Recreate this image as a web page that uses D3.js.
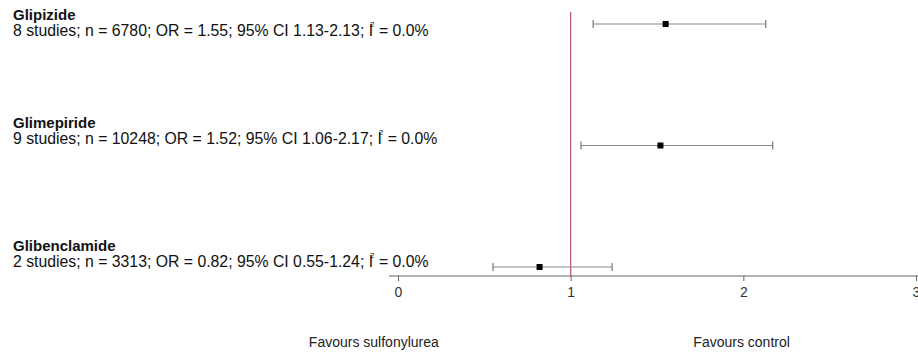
<!DOCTYPE html>
<html>
<head>
<meta charset="utf-8">
<script src="https://cdn.jsdelivr.net/npm/d3@7"></script>
<style>
  body { margin: 0; background: #fff; }
  text { font-family: Arial, "Liberation Sans", sans-serif; }
</style>
</head>
<body>
<div id="chart"></div>
<script>
// data
var drugs = ["Glipizide", "Glimepiride", "Glibenclamide"];
var studies = [8, 9, 2];
var nPatients = [6780, 10248, 3313];
var oddsRatio = [1.55, 1.52, 0.82];
var ciLow = [1.13, 1.06, 0.55];
var ciHigh = [2.13, 2.17, 1.24];
var iSquared = ["0.0%", "0.0%", "0.0%"];
var xTicks = [0, 1, 2, 3];
var sideLabels = ["Favours sulfonylurea", "Favours control"];

var width = 918;
var height = 353;
var svg = d3.select("#chart")
    .append("svg")
    .attr("width", width)
    .attr("height", height);

var x = d3.scaleLinear()
    .domain([0, 3])
    .range([398, 916]);

// rows of the forest plot
var y = d3.scalePoint()
    .domain(drugs)
    .range([24, 267]);

// text baselines of the row labels (not evenly spaced in the original)
var yText = d3.scaleOrdinal()
    .domain(drugs)
    .range([36, 144, 267]);

var axisY = 276;

// axis
svg.append("line")
    .attr("x1", 389).attr("x2", width)
    .attr("y1", axisY).attr("y2", axisY)
    .attr("stroke", "#666")
    .attr("stroke-width", 1.2);

var axis = d3.axisBottom(x)
    .tickValues(xTicks)
    .tickSize(5)
    .tickPadding(6)
    .tickFormat(d3.format("d"));

var gAxis = svg.append("g")
    .attr("transform", "translate(0," + axisY + ")")
    .call(axis);
gAxis.select(".domain").remove();
gAxis.selectAll(".tick line").attr("stroke", "#666");
gAxis.selectAll(".tick text")
    .attr("fill", "#333")
    .style("font-size", "14px")
    .style("font-family", "Arial, 'Liberation Sans', sans-serif");

// line of no effect
svg.append("line")
    .attr("x1", x(1)).attr("x2", x(1))
    .attr("y1", 12).attr("y2", axisY)
    .attr("stroke", "#bd5068")
    .attr("stroke-width", 1.2);

// confidence intervals
var rows = svg.selectAll(".row")
    .data(drugs)
    .enter()
    .append("g")
    .attr("class", "row");

rows.append("line")
    .attr("x1", (d, i) => x(ciLow[i]))
    .attr("x2", (d, i) => x(ciHigh[i]))
    .attr("y1", d => y(d))
    .attr("y2", d => y(d))
    .attr("stroke", "#888")
    .attr("stroke-width", 1.2);

rows.append("line")
    .attr("x1", (d, i) => x(ciLow[i]))
    .attr("x2", (d, i) => x(ciLow[i]))
    .attr("y1", d => y(d) - 4)
    .attr("y2", d => y(d) + 4)
    .attr("stroke", "#777")
    .attr("stroke-width", 1.2);

rows.append("line")
    .attr("x1", (d, i) => x(ciHigh[i]))
    .attr("x2", (d, i) => x(ciHigh[i]))
    .attr("y1", d => y(d) - 4)
    .attr("y2", d => y(d) + 4)
    .attr("stroke", "#777")
    .attr("stroke-width", 1.2);

rows.append("rect")
    .attr("x", (d, i) => x(oddsRatio[i]) - 3)
    .attr("y", d => y(d) - 3)
    .attr("width", 6)
    .attr("height", 6)
    .attr("fill", "#000");

// labels
rows.append("text")
    .attr("x", 13)
    .attr("y", d => yText(d) - 16)
    .style("font-size", "15px")
    .style("font-weight", "bold")
    .attr("fill", "#111")
    .text(d => d);

var sub = rows.append("text")
    .attr("x", 13)
    .attr("y", d => yText(d))
    .style("font-size", "15.8px")
    .attr("fill", "#111");

sub.append("tspan")
    .text((d, i) => studies[i] + " studies; n = " + nPatients[i] +
        "; OR = " + oddsRatio[i].toFixed(2) + "; 95% CI " +
        ciLow[i].toFixed(2) + "-" + ciHigh[i].toFixed(2) + "; I");
sub.append("tspan")
    .attr("dx", -3)
    .attr("dy", -9)
    .style("font-size", "8px")
    .text("2");
sub.append("tspan")
    .attr("dy", 9)
    .text((d, i) => " = " + iSquared[i]);

// favours labels
svg.selectAll(".side")
    .data(sideLabels)
    .enter()
    .append("text")
    .attr("class", "side")
    .attr("x", (d, i) => i === 0 ? x(-0.14) : x(1.99))
    .attr("y", 347)
    .attr("text-anchor", "middle")
    .style("font-size", "14px")
    .attr("fill", "#222")
    .text(d => d);
</script>
</body>
</html>
